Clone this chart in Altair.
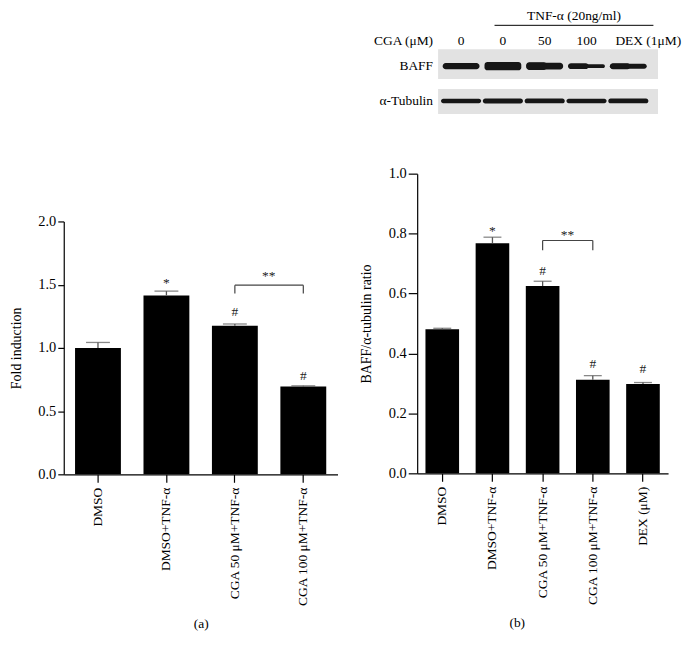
import altair as alt
import pandas as pd

FONT = "Liberation Serif"
FS = 13.5
FS_TICK = 14.5
FS_TITLE = 14

# ---------------- Panel (a) data ----------------
a_cats = ["DMSO", "DMSO+TNF-α", "CGA 50 μM+TNF-α", "CGA 100 μM+TNF-α"]
a_vals = [1.00, 1.415, 1.175, 0.695]
a_errs = [1.043, 1.449, 1.189, 0.700]
a_ann_text = ["*", "#", "#"]
a_ann_cat = ["DMSO+TNF-α", "CGA 50 μM+TNF-α", "CGA 100 μM+TNF-α"]
a_ann_y = [1.48, 1.256, 0.744]
a_bracket = {"c1": "CGA 50 μM+TNF-α", "c2": "CGA 100 μM+TNF-α", "y": 1.496, "low": 1.43, "ty": 1.54}
a_yticks = [0.0, 0.5, 1.0, 1.5, 2.0]

# ---------------- Panel (b) data ----------------
b_cats = ["DMSO", "DMSO+TNF-α", "CGA 50 μM+TNF-α", "CGA 100 μM+TNF-α", "DEX (μM)"]
b_vals = [0.481, 0.768, 0.625, 0.312, 0.298]
b_errs = [0.484, 0.788, 0.641, 0.326, 0.303]
b_ann_text = ["*", "#", "#", "#"]
b_ann_cat = ["DMSO+TNF-α", "CGA 50 μM+TNF-α", "CGA 100 μM+TNF-α", "DEX (μM)"]
b_ann_y = [0.794, 0.663, 0.350, 0.334]
b_bracket = {"c1": "CGA 50 μM+TNF-α", "c2": "CGA 100 μM+TNF-α", "y": 0.777, "low": 0.744, "ty": 0.782}
b_yticks = [0.0, 0.2, 0.4, 0.6, 0.8, 1.0]

# ---------------- Blot data ----------------
lanes = [1, 2, 3, 4, 5]
lane_headers = ["0", "0", "50", "100"]
dex_header = "DEX (1μM)"
baff_left = [0.62, 0.85, 0.76, 0.58, 0.6]
baff_right = [0.62, 0.85, 0.66, 0.38, 0.5]
tub_thick = [0.45, 0.5, 0.48, 0.45, 0.48]
row_labels = ["CGA (μM)", "BAFF", "α-Tubulin"]
row_label_y = [3.2, 5.7, 9.2]
box_y1 = [4.0, 8.0]
box_y2 = [7.0, 10.5]
band_center = [5.7, 9.2]
tnf_label = "TNF-α (20ng/ml)"
tnf_span = [1.8, 5.6]


def bar_panel(cats, vals, errs, ann_cat, ann_y, ann_text, bracket, ymax, yticks,
              ytitle, caption, width, height, ytick_size, ytitle_pad, cap_size,
              star_dx, caption_x=None):
    xscale = alt.Scale(domain=cats, paddingInner=0.33, paddingOuter=0.165)
    xaxis_kw = dict(title=caption, labelAngle=-90, tickSize=8, labelPadding=5,
                    titlePadding=10)
    if caption_x is not None:
        xaxis_kw["titleX"] = caption_x
    yscale = alt.Scale(domain=[0, ymax], nice=False)
    df = pd.DataFrame({"cat": cats, "val": vals, "err": errs})

    bars = alt.Chart(df).mark_bar(color="black").encode(
        x=alt.X("cat:N", sort=cats, scale=xscale, axis=alt.Axis(**xaxis_kw)),
        y=alt.Y("val:Q", scale=yscale,
                axis=alt.Axis(values=yticks, format=".1f", tickSize=ytick_size,
                              labelPadding=2, titlePadding=ytitle_pad, title=ytitle,
                              labelFontSize=FS_TICK, titleFontSize=FS_TITLE)),
    )
    err_line = alt.Chart(df).mark_rule(color="#555555", strokeWidth=1.3).encode(
        x=alt.X("cat:N", sort=cats, scale=xscale), y=alt.Y("val:Q", scale=yscale), y2="err:Q"
    )
    caps = alt.Chart(df).mark_tick(color="#555555", thickness=1.3, size=cap_size).encode(
        x=alt.X("cat:N", sort=cats, scale=xscale), y=alt.Y("err:Q", scale=yscale)
    )
    ann = pd.DataFrame({"cat": ann_cat, "y": ann_y, "t": ann_text})
    ann_layer = alt.Chart(ann).mark_text(baseline="alphabetic", color="#222222").encode(
        x=alt.X("cat:N", sort=cats, scale=xscale), y=alt.Y("y:Q", scale=yscale), text="t:N"
    )
    br = pd.DataFrame({"cat": [bracket["c1"]], "cat2": [bracket["c2"]], "y": [bracket["y"]]})
    hline = alt.Chart(br).mark_rule(color="#444444", strokeWidth=1.2).encode(
        x=alt.X("cat:N", sort=cats, scale=xscale, bandPosition=0.5),
        x2=alt.X2("cat2:N", bandPosition=0.5),
        y=alt.Y("y:Q", scale=yscale),
    )
    drops = pd.DataFrame({"cat": [bracket["c1"], bracket["c2"]],
                          "y": [bracket["y"]] * 2, "ylow": [bracket["low"]] * 2})
    dlines = alt.Chart(drops).mark_rule(color="#444444", strokeWidth=1.2).encode(
        x=alt.X("cat:N", sort=cats, scale=xscale), y=alt.Y("ylow:Q", scale=yscale), y2="y:Q"
    )
    st = pd.DataFrame({"cat": [bracket["c1"]], "y": [bracket["ty"]], "t": ["**"]})
    stars = alt.Chart(st).mark_text(baseline="alphabetic", dx=star_dx, color="#222222").encode(
        x=alt.X("cat:N", sort=cats, scale=xscale), y=alt.Y("y:Q", scale=yscale), text="t:N"
    )
    return alt.layer(bars, err_line, caps, ann_layer, hline, dlines, stars).properties(
        width=width, height=height
    )


chart_a = bar_panel(a_cats, a_vals, a_errs, a_ann_cat, a_ann_y, a_ann_text, a_bracket,
                    2.0, a_yticks, "Fold induction", "(a)", 275, 254, 6, 14, 24, 34)
chart_b = bar_panel(b_cats, b_vals, b_errs, b_ann_cat, b_ann_y, b_ann_text, b_bracket,
                    1.0, b_yticks, "BAFF/α-tubulin ratio", "(b)", 252, 301, 9, 15, 18, 25,
                    caption_x=100)

# ---------------- Blot panel ----------------
BX = alt.Scale(domain=[-0.05, 6.236])
BY = alt.Scale(domain=[0, 11], reverse=True)

box_df = pd.DataFrame({"x1": [0.45, 0.45], "x2": [5.71, 5.71], "y1": box_y1, "y2": box_y2})
boxes = alt.Chart(box_df).mark_rect(color="#e2e2e2").encode(
    x=alt.X("x1:Q", scale=BX, axis=None), x2="x2:Q",
    y=alt.Y("y1:Q", scale=BY, axis=None), y2="y2:Q",
)
band_rows = []
for lane, tl_, tr_ in zip(lanes, baff_left, baff_right):
    tmin = min(tl_, tr_)
    band_rows.append({"x1": lane - 0.44, "x2": lane + 0.44,
                      "y1": band_center[0] - tmin / 2, "y2": band_center[0] + tmin / 2})
    if tl_ > tmin:
        band_rows.append({"x1": lane - 0.44, "x2": lane + 0.05,
                          "y1": band_center[0] - tl_ / 2, "y2": band_center[0] + tl_ / 2})
    if tr_ > tmin:
        band_rows.append({"x1": lane - 0.05, "x2": lane + 0.44,
                          "y1": band_center[0] - tr_ / 2, "y2": band_center[0] + tr_ / 2})
for lane, t in zip(lanes, tub_thick):
    band_rows.append({"x1": lane - 0.48, "x2": lane + 0.48,
                      "y1": band_center[1] - t / 2, "y2": band_center[1] + t / 2})
bands = alt.Chart(pd.DataFrame(band_rows)).mark_rect(
    color="#161616", cornerRadius=3
).encode(
    x=alt.X("x1:Q", scale=BX, axis=None), x2="x2:Q",
    y=alt.Y("y1:Q", scale=BY, axis=None), y2="y2:Q",
)
rl = pd.DataFrame({"x": [0.33] * 3, "y": row_label_y, "t": row_labels})
row_text = alt.Chart(rl).mark_text(align="right", baseline="middle").encode(
    x=alt.X("x:Q", scale=BX, axis=None), y=alt.Y("y:Q", scale=BY, axis=None), text="t:N"
)
hd = pd.DataFrame({"x": lanes[:4], "y": [row_label_y[0]] * 4, "t": lane_headers})
head_text = alt.Chart(hd).mark_text(align="center", baseline="middle").encode(
    x=alt.X("x:Q", scale=BX, axis=None), y=alt.Y("y:Q", scale=BY, axis=None), text="t:N"
)
dx_df = pd.DataFrame({"x": [lanes[4]], "y": [row_label_y[0]], "t": [dex_header]})
dex_text = alt.Chart(dx_df).mark_text(align="left", baseline="middle", dx=-13).encode(
    x=alt.X("x:Q", scale=BX, axis=None), y=alt.Y("y:Q", scale=BY, axis=None), text="t:N"
)
tl = pd.DataFrame({"x": [tnf_span[0]], "x2": [tnf_span[1]], "y": [1.6]})
tnf_line = alt.Chart(tl).mark_rule(color="black", strokeWidth=1).encode(
    x=alt.X("x:Q", scale=BX, axis=None), x2="x2:Q", y=alt.Y("y:Q", scale=BY, axis=None)
)
tt = pd.DataFrame({"x": [sum(tnf_span) / 2], "y": [0.0], "t": [tnf_label]})
tnf_text = alt.Chart(tt).mark_text(align="center", baseline="top").encode(
    x=alt.X("x:Q", scale=BX, axis=None), y=alt.Y("y:Q", scale=BY, axis=None), text="t:N"
)
blot = alt.layer(boxes, bands, row_text, head_text, dex_text, tnf_line, tnf_text).properties(
    width=264, height=110
)

spacer = alt.Chart(pd.DataFrame({"t": [""]})).mark_text().encode(text="t:N").properties(
    width=10, height=100
)

left = alt.vconcat(spacer, chart_a, spacing=105)
right = alt.vconcat(blot, chart_b, spacing=47)

chart = alt.hconcat(left, right, spacing=21).properties(
    padding={"left": 1, "top": 0, "right": 0, "bottom": 5}
).configure_view(stroke=None).configure_axis(
    labelFont=FONT, titleFont=FONT, labelFontSize=FS, titleFontSize=FS,
    titleFontWeight="normal", labelColor="black", titleColor="black",
    domainColor="black", tickColor="black", grid=False, domainWidth=1.2, tickWidth=1.2,
).configure_text(font=FONT, fontSize=FS)

chart.save("out.html", embed_options={"renderer": "svg", "actions": False})
